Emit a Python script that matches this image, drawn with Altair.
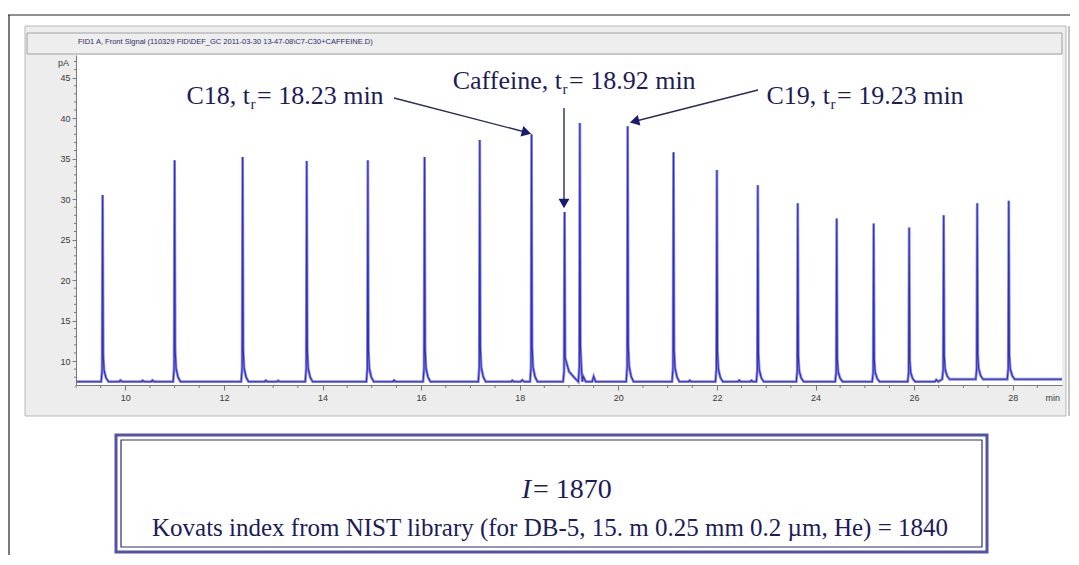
import altair as alt
import pandas as pd

# ---------------- data ----------------
peak_times = [9.54, 11.00, 12.38, 13.68, 14.92, 16.07, 17.19, 18.24, 18.91, 19.22,
              20.19, 21.12, 22.00, 22.83, 23.64, 24.43, 25.18, 25.90, 26.60, 27.28, 27.92]
peak_heights = [30.5, 34.8, 35.2, 34.7, 34.8, 35.2, 37.3, 38.0, 28.4, 39.4,
                39.0, 35.8, 33.6, 31.7, 29.5, 27.6, 27.0, 26.5, 28.0, 29.5, 29.8]
peak_tail = [1, 1, 1, 1, 1, 1, 1, 1, 3, 1, 1, 1, 1, 1, 1, 1, 1, 1, 1, 1, 1]

noise_times = [9.9, 10.35, 10.55, 12.85, 13.1, 15.45, 17.85, 18.05, 19.5, 21.45, 22.45, 22.7, 26.45]
noise_levels = [7.62, 7.6, 7.62, 7.6, 7.58, 7.62, 7.6, 7.65, 8.1, 7.6, 7.62, 7.6, 7.68]

baseline_early = 7.45
baseline_late = 7.75
baseline_shift_time = 26.5

x_ticks = [10, 12, 14, 16, 18, 20, 22, 24, 26, 28]
x_minor = [9.0, 9.5, 10.5, 11.0, 11.5, 12.5, 13.0, 13.5, 14.5, 15.0, 15.5, 16.5, 17.0, 17.5,
           18.5, 19.0, 19.5, 20.5, 21.0, 21.5, 22.5, 23.0, 23.5, 24.5, 25.0, 25.5, 26.5,
           27.0, 27.5, 28.5]
y_ticks = [10, 15, 20, 25, 30, 35, 40, 45]
y_minor = [8, 9, 11, 12, 13, 14, 16, 17, 18, 19, 21, 22, 23, 24, 26, 27, 28, 29, 31, 32,
           33, 34, 36, 37, 38, 39, 41, 42, 43, 44, 46, 47]

title_text = r"FID1 A, Front Signal (110329 FID\DEF_GC 2011-03-30 13-47-08\C7-C30+CAFFEINE.D)"

ann_prefix = ["C18, t", "Caffeine, t", "C19, t"]
ann_suffix = ["= 18.23 min", " = 18.92 min", " = 19.23 min"]

box_line1 = "= 1870"
box_line2 = "Kovats index from NIST library (for DB-5, 15. m 0.25 mm 0.2 \u00b5m, He) = 1840"

# ---------------- layout (pixels, plot origin) ----------------
W, H = 986, 330
X_DOM = [9.0, 29.0]
Y_DOM = [7.04, 47.8]

ann_anchor = [(174, 49), (486, 34), (754, 49)]   # (x where "t" ends, baseline y)
arrows = [  # start, tip-center, angle
    ((318, 43), (449, 77), 105),
    ((488, 53), (488, 147), 180),
    ((682, 35), (560, 66), 256),
]

SERIF = "Liberation Serif"
SANS = "Liberation Sans"
NAVY = "#1c1c5a"


def base_at(t):
    return baseline_late if t >= baseline_shift_time else baseline_early


rows = [(X_DOM[0], baseline_early)]
events = []
for t, h, k in zip(peak_times, peak_heights, peak_tail):
    events.append(("peak", t, h, k))
for t, v in zip(noise_times, noise_levels):
    events.append(("noise", t, v, 1))
events.sort(key=lambda e: e[1])
for kind, t, h, k in events:
    if kind == "peak":
        b0 = base_at(t - 0.03)
        b1 = base_at(t + 0.12 * k)
        rows += [(t - 0.03, b0), (t - 0.01, b0 + 0.06 * (h - b0)), (t, h),
                 (t + 0.012, b1 + 0.14 * (h - b1)), (t + 0.03 * k, b1 + 0.06 * (h - b1)),
                 (t + 0.07 * k, b1 + 0.02 * (h - b1)), (t + 0.12 * k, b1)]
    else:
        b = base_at(t)
        rows += [(t - 0.03, b), (t, h), (t + 0.04, b)]
rows.append((X_DOM[1], baseline_late))
trace = pd.DataFrame(rows, columns=["t", "pA"])

xs = alt.Scale(domain=X_DOM, nice=False, zero=False)
ys = alt.Scale(domain=Y_DOM, nice=False, zero=False)
dummy = pd.DataFrame({"a": [0]})


def rect(x, x2, y, y2, **kw):
    return alt.Chart(dummy).mark_rect(**kw).encode(
        x=alt.value(x), x2=alt.value(x2), y=alt.value(y), y2=alt.value(y2))


def rule(x, y, x2, y2, **kw):
    return alt.Chart(dummy).mark_rule(**kw).encode(
        x=alt.value(x), x2=alt.value(x2), y=alt.value(y), y2=alt.value(y2))


def text(x, y, s, **kw):
    return alt.Chart(dummy).mark_text(**kw).encode(
        x=alt.value(x), y=alt.value(y), text=alt.value(s))


layers = []
# outer frame
layers.append(rule(-68, -40, 994, -40, color="#222222", strokeWidth=1.2))
layers.append(rule(-67, -40, -67, 500, color="#222222", strokeWidth=1.2))
# instrument panel
layers.append(rect(-51, 990, -29, 361, color="#ededed", stroke="#b8b8b8", strokeWidth=1))
layers.append(rule(993, -29, 993, 361, color="#b0b0b0", strokeWidth=1.5))
layers.append(rect(-49, 986, -22, -1, color="#eeeeee", stroke="#a0a0a0", strokeWidth=1))
layers.append(text(2, -13, title_text, align="left", baseline="middle", font=SANS,
                   fontSize=7.5, color="#2a2a6a"))
layers.append(rect(0, W, 0, H, color="#ffffff"))

axis_common = dict(domainColor="#7a7a7a", tickColor="#7a7a7a", labelColor="#3a3a3a",
                   labelFont=SANS, labelFontSize=9, title=None, grid=False, zindex=1)

line_halo = alt.Chart(trace).mark_line(color="#8c8cf2", strokeWidth=2.8, clip=True).encode(
    x=alt.X("t:Q", scale=xs, axis=alt.Axis(values=x_ticks, tickSize=5, labelPadding=3,
                                           **axis_common)),
    y=alt.Y("pA:Q", scale=ys, axis=alt.Axis(values=y_ticks, tickSize=4, labelPadding=2,
                                            **axis_common)),
    order="t:Q",
)
line_core = alt.Chart(trace).mark_line(color="#3030b0", strokeWidth=1.1, clip=True).encode(
    x=alt.X("t:Q", scale=xs), y=alt.Y("pA:Q", scale=ys), order="t:Q")
layers += [line_halo, line_core]

# minor ticks
layers.append(alt.Chart(pd.DataFrame({"v": x_minor})).mark_rule(color="#7a7a7a").encode(
    x=alt.X("v:Q", scale=xs), y=alt.value(H), y2=alt.value(H + 3)))
layers.append(alt.Chart(pd.DataFrame({"v": y_minor})).mark_rule(color="#7a7a7a").encode(
    y=alt.Y("v:Q", scale=ys), x=alt.value(-2), x2=alt.value(0)))
layers.append(text(-7, 8, "pA", align="right", baseline="middle", font=SANS, fontSize=9,
                   color="#3a3a3a"))
layers.append(text(984, 343, "min", align="right", baseline="middle", font=SANS, fontSize=9,
                   color="#3a3a3a"))

# annotations
for (ax, ay), pre, suf in zip(ann_anchor, ann_prefix, ann_suffix):
    layers.append(text(ax, ay, pre, align="right", baseline="alphabetic", font=SERIF,
                       fontSize=26, color=NAVY))
    layers.append(text(ax + 0.5, ay + 5, "r", align="left", baseline="alphabetic", font=SERIF,
                       fontSize=15, color=NAVY))
    layers.append(text(ax + 7, ay, suf, align="left", baseline="alphabetic", font=SERIF,
                       fontSize=26, color=NAVY))
for (s, c, ang) in arrows:
    layers.append(rule(s[0], s[1], c[0], c[1], color="#2a2a5e", strokeWidth=1.4))
    layers.append(alt.Chart(dummy).mark_point(shape="triangle", filled=True, size=120,
                                              angle=ang, color="#1a1a70", opacity=1).encode(
        x=alt.value(c[0]), y=alt.value(c[1])))

# result box
layers.append(rect(40, 911, 380, 497, fillOpacity=0, stroke="#5252a6", strokeWidth=3))
layers.append(rect(45, 906, 385, 492, fillOpacity=0, stroke="#2c2c7c", strokeWidth=1.2))
layers.append(text(455, 435, "I", align="right", baseline="middle", font=SERIF,
                   fontStyle="italic", fontSize=28, color=NAVY))
layers.append(text(457, 435, box_line1, align="left", baseline="middle", font=SERIF,
                   fontSize=28, color=NAVY))
layers.append(text(474, 473, box_line2, align="center", baseline="middle", font=SERIF,
                   fontSize=25, color=NAVY))

chart = alt.layer(*layers).properties(
    width=W, height=H,
    autosize=alt.AutoSizeParams(type="none"),
    padding={"left": 68, "top": 47, "right": 9, "bottom": 170},
    background="white",
).configure_view(stroke=None)

chart.save("out.html", embed_options={"renderer": "svg", "actions": False})
